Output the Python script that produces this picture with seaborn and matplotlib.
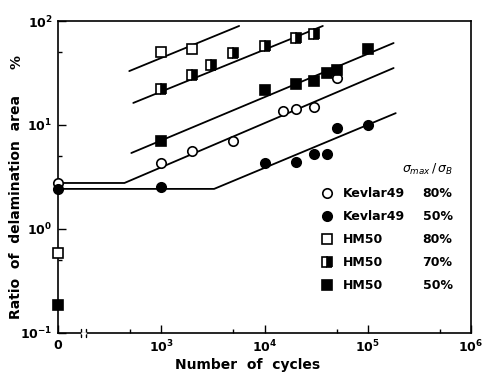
import numpy as np
import pandas as pd
import matplotlib
matplotlib.use("Agg")
import matplotlib.pyplot as plt
import seaborn as sns
from matplotlib.lines import Line2D
from matplotlib.ticker import FixedLocator, FixedFormatter, NullFormatter

sns.set_theme(style="ticks")
plt.rcParams['font.family'] = ['DejaVu Sans']
plt.rcParams['axes.edgecolor'] = 'black'
plt.rcParams['xtick.color'] = 'black'
plt.rcParams['ytick.color'] = 'black'
plt.rcParams['text.color'] = 'black'
plt.rcParams['axes.labelcolor'] = 'black'

ZERO_POS = 100  # where the "0 cycles" column sits on the log axis

# ---- measured points (cycles, delamination area %) ----
kev80_n = [0, 1000, 2000, 5000, 15000, 20000, 30000, 50000]
kev80_v = [2.77, 4.3, 5.6, 7.0, 13.6, 14.3, 14.9, 28.3]

kev50_n = [0, 1000, 10000, 20000, 30000, 40000, 50000, 100000]
kev50_v = [2.43, 2.54, 4.3, 4.4, 5.3, 5.3, 9.35, 10.0]

hm80_n = [0, 1000, 2000]
hm80_v = [0.59, 50, 54]

hm70_n = [1000, 2000, 3000, 5000, 10000, 20000, 30000]
hm70_v = [22, 30, 38, 49, 57, 69, 75]

hm50_n = [0, 1000, 10000, 20000, 30000, 40000, 50000, 100000]
hm50_v = [0.186, 7.0, 21.7, 24.8, 26.5, 31.6, 33.8, 54]

# ---- fitted trend lines ----
kev80_fit_n = [0, 440, 178000]
kev80_fit_v = [2.77, 2.77, 35.3]
kev50_fit_n = [0, 3250, 186600]
kev50_fit_v = [2.43, 2.43, 13.0]
hm80_fit_n = [490, 5680]
hm80_fit_v = [33.0, 89.6]
hm70_fit_n = [536, 36700]
hm70_fit_v = [16.3, 89.6]
hm50_fit_n = [513, 178000]
hm50_fit_v = [5.38, 61.4]

materials = ["Kevlar49", "Kevlar49", "HM50", "HM50", "HM50"]
ratios = ["80%", "50%", "80%", "70%", "50%"]

x_ticks = [100, 1e3, 1e4, 1e5, 1e6]
x_tick_labels = ["0", r"$\mathbf{10^{3}}$", r"$\mathbf{10^{4}}$", r"$\mathbf{10^{5}}$", r"$\mathbf{10^{6}}$"]
x_minor = [500, 5000, 50000, 500000]
y_ticks = [0.1, 1, 10, 100]
y_tick_labels = [r"$\mathbf{10^{-1}}$", r"$\mathbf{10^{0}}$", r"$\mathbf{10^{1}}$", r"$\mathbf{10^{2}}$"]
y_minor = [0.5, 5, 50]


def pos(n):
    return [ZERO_POS if v == 0 else v for v in n]


fig = plt.figure(figsize=(4.86, 3.79), dpi=100)
ax = fig.add_axes([58 / 486, 1 - 333 / 379, 413 / 486, 312 / 379])
ax.set_xscale("log")
ax.set_yscale("log")

LW = 1.3
# trend lines
for fn, fv in [(kev80_fit_n, kev80_fit_v), (kev50_fit_n, kev50_fit_v),
               (hm80_fit_n, hm80_fit_v), (hm70_fit_n, hm70_fit_v),
               (hm50_fit_n, hm50_fit_v)]:
    df = pd.DataFrame({"n": pos(fn), "v": fv})
    sns.lineplot(data=df, x="n", y="v", ax=ax, color="black", lw=LW,
                 estimator=None, sort=False, clip_on=False)

MS = 6.8
MEW = 1.2
styles = [
    dict(marker="o", markerfacecolor="white"),
    dict(marker="o", markerfacecolor="black"),
    dict(marker="s", markerfacecolor="white"),
    dict(marker="s", markerfacecolor="black", fillstyle="right", markerfacecoloralt="white"),
    dict(marker="s", markerfacecolor="black"),
]
series = [(kev80_n, kev80_v), (kev50_n, kev50_v), (hm80_n, hm80_v),
          (hm70_n, hm70_v), (hm50_n, hm50_v)]
for (sn, sv), st in zip(series, styles):
    df = pd.DataFrame({"n": pos(sn), "v": sv})
    sns.lineplot(data=df, x="n", y="v", ax=ax, estimator=None, linestyle="none",
                 markersize=MS, markeredgecolor="black", markeredgewidth=MEW,
                 color="black", clip_on=False, zorder=5, **st)

ax.set_xlim(100, 1e6)
ax.set_ylim(0.1, 100)

ax.xaxis.set_major_locator(FixedLocator(x_ticks))
ax.xaxis.set_major_formatter(FixedFormatter(x_tick_labels))
ax.xaxis.set_minor_locator(FixedLocator(x_minor))
ax.xaxis.set_minor_formatter(NullFormatter())
ax.yaxis.set_major_locator(FixedLocator(y_ticks))
ax.yaxis.set_major_formatter(FixedFormatter(y_tick_labels))
ax.yaxis.set_minor_locator(FixedLocator(y_minor))
ax.yaxis.set_minor_formatter(NullFormatter())

ax.tick_params(which="both", direction="in", width=1.0, labelsize=9)
ax.tick_params(which="major", length=6, pad=4)
ax.tick_params(which="minor", length=3)
for lab in ax.get_xticklabels() + ax.get_yticklabels():
    lab.set_fontweight("bold")
for sp in ax.spines.values():
    sp.set_linewidth(1.2)
    sp.set_color("black")

# axis break on the x axis
for xb in (0.055, 0.068):
    ax.plot([xb, xb], [-0.013, 0.013], transform=ax.transAxes, color="black",
            lw=1.0, clip_on=False)
ax.plot([0.057, 0.066], [0, 0], transform=ax.transAxes, color="white", lw=2.0,
        clip_on=False, zorder=6)

ax.set_xlabel("Number  of  cycles", fontsize=10, fontweight="bold")
ax.xaxis.set_label_coords(0.46, -0.08)
ax.set_ylabel("Ratio  of  delamination  area", fontsize=10, fontweight="bold")
ax.yaxis.set_label_coords(-0.085, 0.405)
ax.text(-0.10, 0.87, "%", transform=ax.transAxes, rotation=90, fontsize=10,
        fontweight="bold", ha="center", va="center")

# legend
handles = []
for st in styles:
    handles.append(Line2D([], [], linestyle="none", markersize=MS,
                          markeredgecolor="black", markeredgewidth=MEW,
                          color="black", **st))
blank = [Line2D([], [], linestyle="none") for _ in ratios]
leg = ax.legend(handles + blank, materials + ratios, ncol=2,
                loc="upper left", bbox_to_anchor=(0.637, 0.548),
                frameon=False, borderpad=0, borderaxespad=0,
                handlelength=1.0, handletextpad=0.76, columnspacing=-0.37,
                labelspacing=0.8,
                title=r"$\sigma_{max}\,/\,\sigma_B$", alignment="right",
                prop=dict(size=9, weight="bold"), title_fontsize=9)

fig.savefig("out.png", dpi=100)
